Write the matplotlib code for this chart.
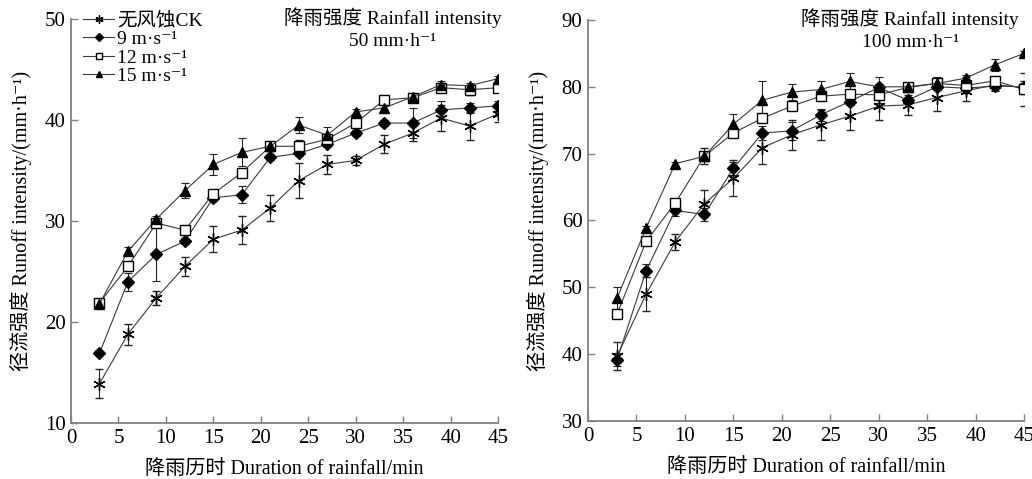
import numpy as np
import matplotlib
matplotlib.use("Agg")
import matplotlib.pyplot as plt

plt.rcParams['font.family'] = ['Liberation Serif', 'Noto Sans CJK SC', 'DejaVu Sans']
plt.rcParams['font.size'] = 14

t = [3, 6, 9, 12, 15, 18, 21, 24, 27, 30, 33, 36, 39, 42, 45]
labels = ['无风蚀CK', '9 m·s⁻¹', '12 m·s⁻¹', '15 m·s⁻¹']

# 50 mm/h
ck_50 = [13.9, 18.8, 22.4, 25.5, 28.2, 29.1, 31.3, 34.0, 35.6, 36.0, 37.6, 38.7, 40.2, 39.4, 40.6]
ck_50_err = [1.45, 1.05, 0.7, 0.9, 1.3, 1.35, 1.25, 1.7, 0.9, 0.45, 0.9, 0.75, 1.3, 1.4, 0.75]
w9_50 = [16.9, 24.0, 26.7, 28.0, 32.3, 32.6, 36.3, 36.7, 37.6, 38.7, 39.7, 39.7, 41.0, 41.2, 41.4]
w9_50_err = [0.2, 0.9, 2.65, 0.3, 0.3, 0.85, 0.3, 0.3, 0.3, 0.3, 0.3, 1.5, 0.9, 0.5, 0.5]
w12_50 = [21.9, 25.5, 29.8, 29.1, 32.7, 34.8, 37.4, 37.4, 38.1, 39.7, 42.0, 42.2, 43.2, 43.0, 43.2]
w12_50_err = [0.3, 0.3, 0.3, 0.3, 0.3, 0.3, 0.3, 0.6, 0.3, 0.3, 0.4, 0.3, 0.3, 0.5, 0.3]
w15_50 = [21.8, 27.0, 30.2, 33.0, 35.6, 36.8, 37.4, 39.5, 38.5, 40.8, 41.2, 42.3, 43.5, 43.4, 44.1]
w15_50_err = [0.3, 0.4, 0.3, 0.75, 1.0, 1.4, 0.3, 0.8, 0.8, 0.3, 0.5, 0.3, 0.4, 0.3, 0.3]

# 100 mm/h
ck_100 = [39.7, 49.0, 56.8, 62.5, 66.3, 70.9, 72.8, 74.3, 75.6, 77.1, 77.3, 78.4, 79.4, 80.3, 79.9]
ck_100_err = [2.1, 2.5, 1.2, 2.0, 2.7, 2.4, 2.2, 2.2, 2.0, 2.0, 1.5, 2.0, 1.5, 0.8, 1.0]
w9_100 = [39.2, 52.5, 61.5, 60.9, 67.8, 73.1, 73.4, 75.8, 77.8, 79.9, 78.0, 80.0, 79.8, 80.1, 80.0]
w9_100_err = [1.0, 1.0, 0.9, 1.0, 1.0, 1.0, 1.4, 0.9, 0.5, 0.5, 0.5, 0.5, 0.5, 0.7, 0.5]
w12_100 = [46.0, 56.9, 62.6, 69.6, 73.1, 75.3, 77.1, 78.6, 78.9, 78.8, 79.9, 80.5, 80.2, 80.9, 79.6]
w12_100_err = [0.5, 0.3, 0.3, 1.2, 0.4, 0.4, 0.4, 0.4, 0.4, 1.2, 0.4, 0.4, 1.2, 0.5, 2.4]
w15_100 = [48.4, 58.9, 68.5, 69.6, 74.4, 78.0, 79.2, 79.6, 80.8, 80.0, 80.0, 80.5, 81.3, 83.3, 85.0]
w15_100_err = [1.7, 0.3, 0.3, 0.5, 1.6, 2.8, 1.2, 1.3, 1.3, 1.4, 0.4, 1.0, 0.4, 0.9, 0.3]

markers = [dict(marker=(6, 2, 0), ms=9, mfc='black', mec='black', mew=1.0),
           dict(marker='D', ms=6, mfc='black', mec='black'),
           dict(marker='s', ms=6.5, mfc='white', mec='black', mew=1.0),
           dict(marker='^', ms=7.5, mfc='black', mec='black')]

panels = [
    dict(series=[ck_50, w9_50, w12_50, w15_50],
         errs=[ck_50_err, w9_50_err, w12_50_err, w15_50_err],
         ylim=(10, 50), yticks=[10, 20, 30, 40, 50],
         title='降雨强度 Rainfall intensity\n50 mm·h⁻¹', tx=0.754,
         rect=[0.0688, 0.1169, 0.4138, 0.8434]),
    dict(series=[ck_100, w9_100, w12_100, w15_100],
         errs=[ck_100_err, w9_100_err, w12_100_err, w15_100_err],
         ylim=(30, 90), yticks=[30, 40, 50, 60, 70, 80, 90],
         title='降雨强度 Rainfall intensity\n100 mm·h⁻¹', tx=0.739,
         rect=[0.5698, 0.1211, 0.4225, 0.8372]),
]

fig = plt.figure(figsize=(10.32, 4.79), dpi=100)
spine_c = '#808080'

for i, p in enumerate(panels):
    ax = fig.add_axes(p['rect'])
    handles = []
    for y, e, m, lab in zip(p['series'], p['errs'], markers, labels):
        c = ax.errorbar(t, y, yerr=e, color='#3a3a3a', lw=0.8, ecolor='#222222',
                        elinewidth=0.8, capsize=3, capthick=0.8, label=lab, **m)
        handles.append(c[0])
    ax.set_xlim(0, 45)
    ax.set_ylim(*p['ylim'])
    ax.set_xticks(range(0, 46, 5))
    ax.set_yticks(p['yticks'])
    for s in ['top', 'right']:
        ax.spines[s].set_visible(False)
    for s in ['left', 'bottom']:
        ax.spines[s].set_color(spine_c)
        ax.spines[s].set_linewidth(1.3)
    ax.tick_params(direction='in', length=5, width=1.0, color=spine_c,
                   labelsize=15, pad=4)
    ax.set_xlabel('降雨历时 Duration of rainfall/min', fontsize=14.5, labelpad=9)
    ax.set_ylabel('径流强度 Runoff intensity/(mm·h⁻¹)', fontsize=14.5, labelpad=9)
    ax.text(p['tx'], 1.03, p['title'], transform=ax.transAxes, ha='center',
            va='top', fontsize=14, linespacing=1.4)
    if i == 0:
        ax.legend(handles, labels, loc='upper left', bbox_to_anchor=(0.028, 1.018),
                  frameon=False, fontsize=14, markerscale=0.65, handlelength=1.6,
                  handletextpad=0.15, labelspacing=0.05, borderpad=0,
                  borderaxespad=0)

fig.savefig('out.png', dpi=100)
